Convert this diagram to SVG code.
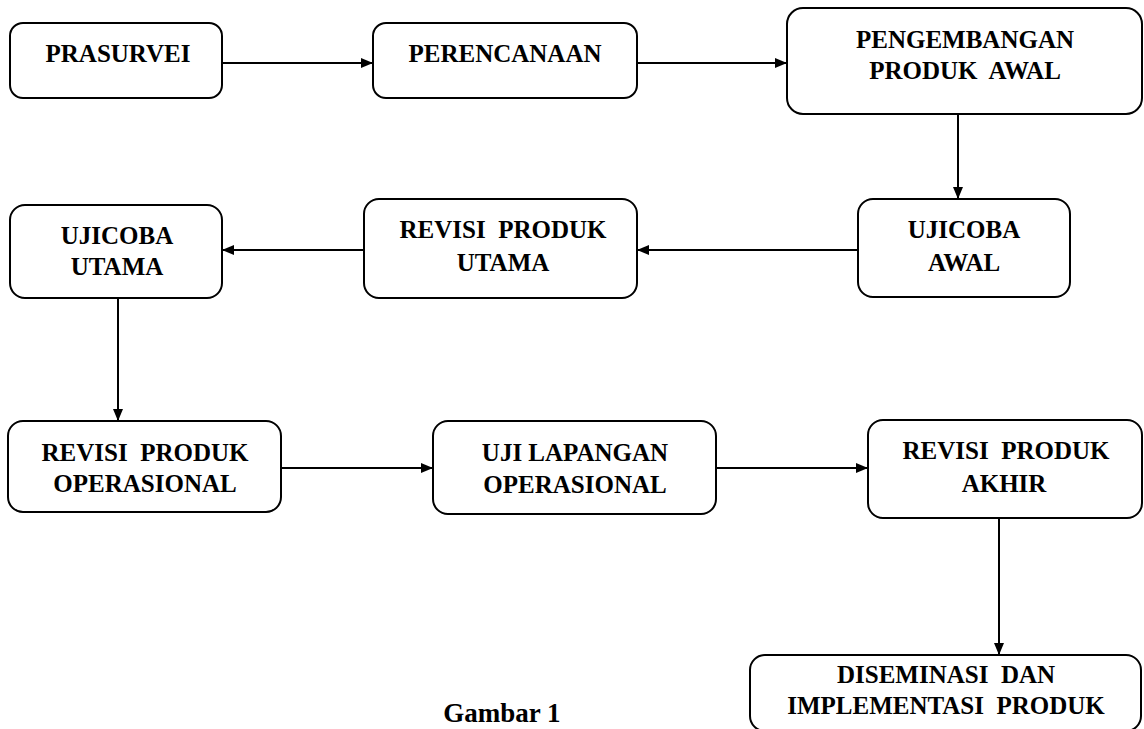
<svg xmlns="http://www.w3.org/2000/svg" width="1144" height="729" viewBox="0 0 1144 729">
<style>
.box{fill:#fff;stroke:#000;stroke-width:2}
.t{font-family:"Liberation Serif","Times New Roman",serif;font-weight:bold;font-size:25px;fill:#000;text-anchor:middle;white-space:pre}
.c{stroke:#000;stroke-width:2;fill:none;marker-end:url(#ah)}
.cap{font-family:"Liberation Serif","Times New Roman",serif;font-weight:bold;font-size:27px;fill:#000;text-anchor:middle}
</style>
<defs>
<marker id="ah" markerWidth="12" markerHeight="10" refX="11" refY="5" orient="auto" markerUnits="userSpaceOnUse">
<path d="M0,0 L12,5 L0,10 Z" fill="#000"/>
</marker>
</defs>
<rect width="1144" height="729" fill="#fff"/>
<g id="connectors">
<line class="c" x1="222" y1="63" x2="372" y2="63"/>
<line class="c" x1="637" y1="63" x2="786" y2="63"/>
<line class="c" x1="958" y1="114" x2="958" y2="198"/>
<line class="c" x1="858" y1="250" x2="638" y2="250"/>
<line class="c" x1="364" y1="250" x2="223" y2="250"/>
<line class="c" x1="118" y1="298" x2="118" y2="420"/>
<line class="c" x1="281" y1="468" x2="432" y2="468"/>
<line class="c" x1="716" y1="468" x2="867" y2="468"/>
<line class="c" x1="999" y1="518" x2="999" y2="654"/>
</g>
<g id="n1"><rect class="box" x="10" y="23" width="212" height="75" rx="13"/><text class="t" x="118" y="62">PRASURVEI</text></g>
<g id="n2"><rect class="box" x="373" y="23" width="264" height="75" rx="13"/><text class="t" x="505" y="62">PERENCANAAN</text></g>
<g id="n3"><rect class="box" x="787" y="8" width="355" height="106" rx="16"/><text class="t" x="965" y="48">PENGEMBANGAN</text><text class="t" x="965" y="79">PRODUK  AWAL</text></g>
<g id="n4"><rect class="box" x="858" y="199" width="212" height="98" rx="15"/><text class="t" x="964" y="238">UJICOBA</text><text class="t" x="964" y="271">AWAL</text></g>
<g id="n5"><rect class="box" x="364" y="199" width="273" height="99" rx="15"/><text class="t" x="503" y="238">REVISI  PRODUK</text><text class="t" x="503" y="271">UTAMA</text></g>
<g id="n6"><rect class="box" x="10" y="205" width="212" height="93" rx="15"/><text class="t" x="117" y="244">UJICOBA</text><text class="t" x="117" y="275">UTAMA</text></g>
<g id="n7"><rect class="box" x="8" y="421" width="273" height="91" rx="15"/><text class="t" x="145" y="461">REVISI  PRODUK</text><text class="t" x="145" y="492">OPERASIONAL</text></g>
<g id="n8"><rect class="box" x="433" y="421" width="283" height="93" rx="15"/><text class="t" x="575" y="461">UJI LAPANGAN</text><text class="t" x="575" y="493">OPERASIONAL</text></g>
<g id="n9"><rect class="box" x="868" y="420" width="274" height="98" rx="15"/><text class="t" x="1006" y="459">REVISI  PRODUK</text><text class="t" x="1004" y="492">AKHIR</text></g>
<g id="n10"><rect class="box" x="750" y="655" width="391" height="76" rx="15"/><text class="t" x="946" y="683">DISEMINASI  DAN</text><text class="t" x="946" y="714">IMPLEMENTASI  PRODUK</text></g>
<text class="cap" x="502" y="722">Gambar 1</text>
</svg>
